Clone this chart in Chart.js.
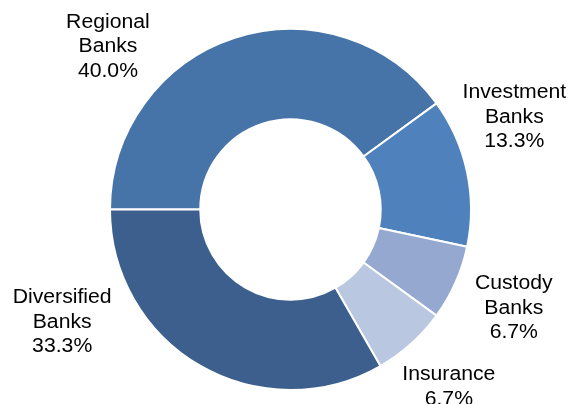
<!DOCTYPE html>
<html>
<head>
<meta charset="utf-8">
<script src="https://cdn.jsdelivr.net/npm/chart.js@4/dist/chart.umd.min.js"></script>
<style>
  html, body { margin: 0; padding: 0; background: #ffffff; }
  #wrap { width: 570px; height: 404px; }
</style>
</head>
<body>
<div id="wrap"><canvas id="c" width="570" height="404"></canvas></div>
<script>
// ---- data ----
const categories = ["Regional Banks", "Investment Banks", "Custody Banks", "Insurance", "Diversified Banks"];
const shares = [40.0, 13.3, 6.7, 6.7, 33.3];

// ---- styles ----
const sliceColors = ["#4674A8", "#4F81BD", "#95A9D0", "#B9C7E0", "#3C5F8E"];
// label anchor (first baseline) offset from the ring centre, in multiples of the outer radius
const labelOffsets = [
  [-1.017, -1.013],
  [ 1.247, -0.620],
  [ 1.244,  0.443],
  [ 0.882,  0.950],
  [-1.272,  0.523]
];

const labelPlugin = {
  id: 'sliceLabels',
  afterDatasetsDraw(chart) {
    const ctx = chart.ctx;
    const meta = chart.getDatasetMeta(0);
    meta.data.forEach((arc, i) => {
      const r = 179.5;
      const x = arc.x + labelOffsets[i][0] * r;
      const y = arc.y + labelOffsets[i][1] * r;
      const lines = categories[i].split(' ');
      lines.push(shares[i].toFixed(1) + '%');
      lines.forEach((t, k) => {
        ctx.save();
        ctx.font = '20px "Liberation Sans", Arial, sans-serif';
        ctx.fillStyle = '#000000';
        ctx.textAlign = 'center';
        ctx.textBaseline = 'alphabetic';
        ctx.translate(x, y + k * 24.5);
        ctx.scale(1.06, 1);
        ctx.fillText(t, 0, 0);
        ctx.restore();
      });
    });
  }
};

new Chart(document.getElementById('c'), {
  type: 'doughnut',
  data: {
    labels: categories,
    datasets: [{
      data: shares,
      backgroundColor: sliceColors,
      borderColor: '#ffffff',
      borderWidth: 2
    }]
  },
  options: {
    responsive: false,
    animation: false,
    rotation: -90,
    cutout: '50%',
    layout: { padding: { top: 28, bottom: 13, left: 109, right: 98 } },
    plugins: {
      legend: { display: false },
      tooltip: { enabled: false }
    }
  },
  plugins: [labelPlugin]
});
</script>
</body>
</html>
